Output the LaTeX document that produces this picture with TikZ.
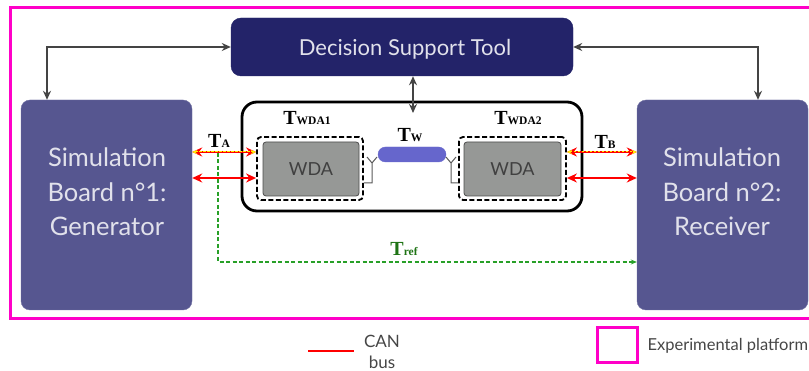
\documentclass[tikz,border=0pt]{standalone}
\usepackage{fontspec}
\setmainfont{Lato}
\newfontfamily\labfont{Liberation Serif}
\usetikzlibrary{arrows.meta,calc}
\definecolor{navy}{RGB}{35,35,105}
\definecolor{boardfill}{RGB}{86,86,144}
\definecolor{pinkframe}{RGB}{255,0,200}
\definecolor{conn}{RGB}{68,68,68}
\definecolor{wdafill}{RGB}{150,152,150}
\definecolor{pillfill}{RGB}{102,102,204}
\definecolor{refgreen}{RGB}{40,160,40}
\definecolor{labgreen}{RGB}{30,115,20}
\definecolor{boardtext}{RGB}{225,225,235}
\definecolor{legtext}{RGB}{70,70,70}
\newcommand\tlab[2]{{\labfont\bfseries\fontsize{20}{20}\selectfont #1\fontsize{11.5}{11.5}\selectfont #2}}
\begin{document}
\begin{tikzpicture}[x=1pt,y=-1pt,
  boardbox/.style={draw=boardfill!85!white,fill=boardfill,rounded corners=9pt,minimum width=171pt,minimum height=210pt},
  boardtxt/.style={text=boardtext,align=center,font=\fontsize{25.5}{34.5}\selectfont},
  grayconn/.style={draw=conn,line width=2.2pt,{Stealth[length=9pt,width=8pt]}-{Stealth[length=9pt,width=8pt]}},
  can/.style={draw=red,line width=2.6pt,{Stealth[length=10pt,width=9pt]}-{Stealth[length=10pt,width=9pt]}},
  tmark/.style={draw=yellow,line width=1pt,dash pattern=on 2.5pt off 1.5pt,{Stealth[length=5pt,width=4pt]}-{Stealth[length=5pt,width=4pt]}},
  dashbox/.style={draw=black,line width=1.8pt,dash pattern=on 5pt off 2.5pt,rounded corners=4pt},
  wdabox/.style={draw=black!70,fill=wdafill,line width=0.8pt,rounded corners=3pt,text=black!75,font=\fontsize{18}{18}\selectfont},
  ant/.style={draw=black!65,line width=1pt}]
\useasboundingbox (0,0) rectangle (809,371);

% experimental platform frame
\draw[pinkframe,line width=3pt] (10,8) rectangle (830,319);

% main blocks
\node[draw=navy,fill=navy,rounded corners=10pt,minimum width=342pt,minimum height=58pt] (dst) at (402,47) {};
\node[text=boardtext,font=\fontsize{22}{22}\selectfont] (dsttxt) at (405,49) {Decision Support Tool};

\node[boardbox] (b1) at (106.5,205) {};
\node[boardtxt] (b1txt) at (107,192) {Simulation\\Board n°1:\\Generator};
\node[boardbox] (b2) at (722.5,205) {};
\node[boardtxt] (b2txt) at (722,192) {Simulation\\Board n°2:\\Receiver};

% wireless test bench
\node[draw=black,line width=2.8pt,rounded corners=15pt,minimum width=340pt,minimum height=109pt] (bench) at (412,156.5) {};
\node[dashbox,minimum width=106pt,minimum height=63pt] (wda1d) at (310,168.5) {};
\node[wdabox,minimum width=96pt,minimum height=54pt] (wda1) at (311,169) {WDA};
\node[dashbox,minimum width=107pt,minimum height=63pt] (wda2d) at (512.5,168.5) {};
\node[wdabox,minimum width=97pt,minimum height=54pt] (wda2) at (512.5,169) {WDA};
\node[fill=pillfill,draw=pillfill,rounded corners=7.5pt,minimum width=68pt,minimum height=15pt,inner sep=0pt] (chan) at (412,154.5) {};

% antennas
\draw[ant] (wda1d.east |- 0,183) -| (372,163) -- (367,157) (372,163) -- (377,157);
\draw[ant] (wda2d.west |- 0,183) -| (451,163) -- (446,157) (451,163) -- (456,157);

% labels
\node (lwda1) at (307,118) {\tlab{T}{WDA1}};
\node (lwda2) at (518,118) {\tlab{T}{WDA2}};
\node (lw) at (410,135) {\tlab{T}{W}};
\node (la) at (219,141) {\tlab{T}{A}};
\node (lb) at (605,142) {\tlab{T}{B}};
\node[text=labgreen] (lref) at (404,249) {\tlab{T}{ref}};

% decision tool links
\coordinate (c1) at (47,0);
\coordinate (c2) at (758,0);
\coordinate (cw) at (413,113);
\draw[grayconn] (dst.west) -| (b1.north -| c1);
\draw[grayconn] (dst.east) -| (b2.north -| c2);
\draw[grayconn] (dst.south -| cw) -- (cw);

% CAN links
\draw[can] (b1.east |- 0,152) -- (wda1d.west |- 0,152);
\draw[tmark] (b1.east |- 0,152) -- (wda1d.west |- 0,152);
\draw[can] (b1.east |- 0,178) -- (wda1d.west |- 0,178);
\draw[can] (wda2d.east |- 0,152) -- (b2.west |- 0,152);
\draw[tmark] (wda2d.east |- 0,152) -- (b2.west |- 0,152);
\draw[can] (wda2d.east |- 0,178) -- (b2.west |- 0,178);

% reference timing path
\coordinate (rs) at (218,153);
\draw[refgreen,line width=1.2pt,dash pattern=on 4pt off 2.5pt,-{Stealth[length=6pt,width=5pt]}] (rs) |- (b2.west |- 0,262);

% legend
\coordinate (lg1) at (308,351);
\coordinate (lg2) at (354,351);
\draw[red,line width=2.4pt] (lg1) -- (lg2);
\node[text=legtext,font=\fontsize{17}{21}\selectfont,align=center] (legcan) at (382,352) {CAN\\bus};
\node[draw=pinkframe,line width=3pt,minimum width=40pt,minimum height=35pt,inner sep=0pt] (legbox) at (617,345) {};
\node[text=legtext,font=\fontsize{16.5}{16.5}\selectfont,anchor=west] (legexp) at (644,346) {Experimental platform};
\end{tikzpicture}
\end{document}
